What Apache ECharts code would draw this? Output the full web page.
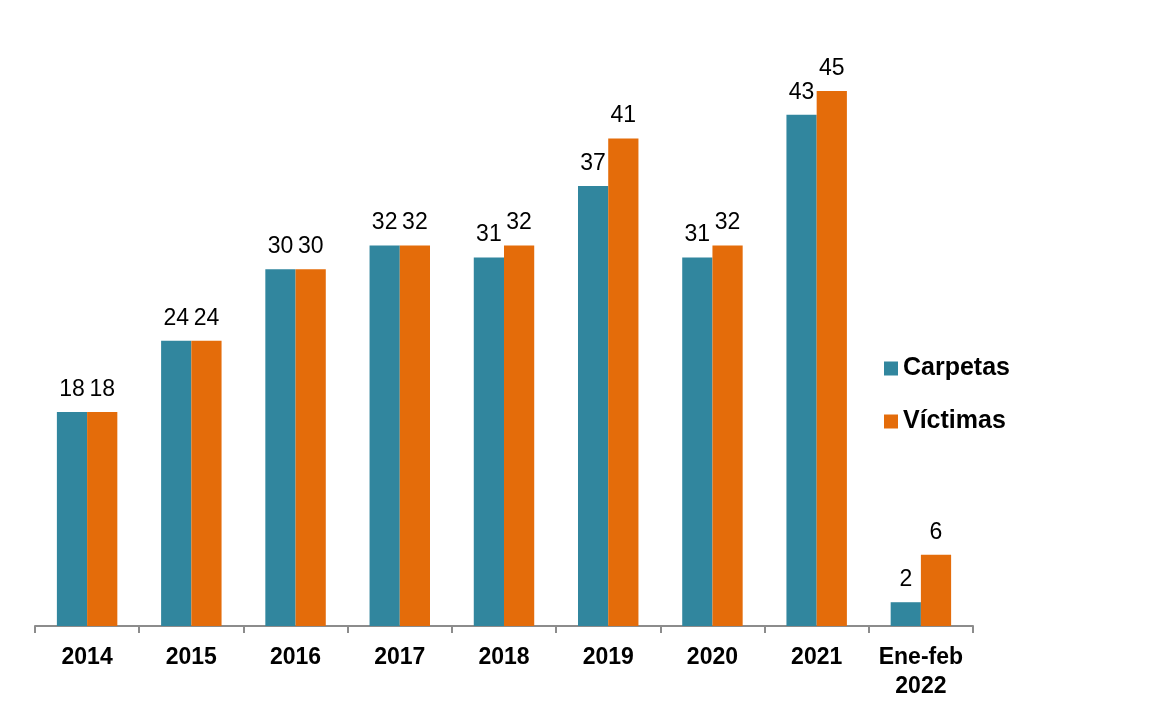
<!DOCTYPE html>
<html>
<head>
<meta charset="utf-8">
<script src="https://cdn.jsdelivr.net/npm/echarts@6/dist/echarts.min.js"></script>
<style>
  html, body { margin: 0; padding: 0; background: #fff; }
  #main { width: 1169px; height: 709px; }
</style>
</head>
<body>
<div id="main"></div>
<script>
// datos del gráfico
var categories = ["2014", "2015", "2016", "2017", "2018", "2019", "2020", "2021", "Ene-feb\n2022"];
var carpetas = [18, 24, 30, 32, 31, 37, 31, 43, 2];
var victimas = [18, 24, 30, 32, 32, 41, 32, 45, 6];

var chart = echarts.init(document.getElementById("main"));

var labelStyle = {
  show: true,
  position: "top",
  distance: 11,
  color: "#000",
  fontFamily: "Liberation Sans, Arial",
  fontSize: 23
};

var option = {
  animation: false,
  textStyle: { fontFamily: "Liberation Sans, Arial" },
  legend: {
    orient: "vertical",
    left: 884,
    top: 356,
    padding: 0,
    itemWidth: 14,
    itemHeight: 14,
    itemGap: 28,
    icon: "rect",
    textStyle: { fontSize: 25, fontWeight: "bold", color: "#000" },
    data: ["Carpetas", "Víctimas"]
  },
  grid: { left: 35, right: 196, top: 91, bottom: 83 },
  xAxis: {
    type: "category",
    data: categories,
    axisLine: { lineStyle: { color: "#8c8c8c", width: 2 } },
    axisTick: { show: true, interval: 0, length: 7, lineStyle: { color: "#8c8c8c", width: 2 } },
    axisLabel: { interval: 0, color: "#000", fontSize: 23, fontWeight: "bold", margin: 17, lineHeight: 29 }
  },
  yAxis: {
    type: "value",
    min: 0,
    max: 45,
    show: false,
    splitLine: { show: false }
  },
  series: [
    {
      name: "Carpetas",
      type: "bar",
      data: carpetas,
      barGap: "0%",
      barCategoryGap: "42%",
      itemStyle: { color: "#31869E" },
      label: labelStyle
    },
    {
      name: "Víctimas",
      type: "bar",
      data: victimas,
      itemStyle: { color: "#E46C0A" },
      label: labelStyle
    }
  ]
};

chart.setOption(option);
</script>
</body>
</html>
